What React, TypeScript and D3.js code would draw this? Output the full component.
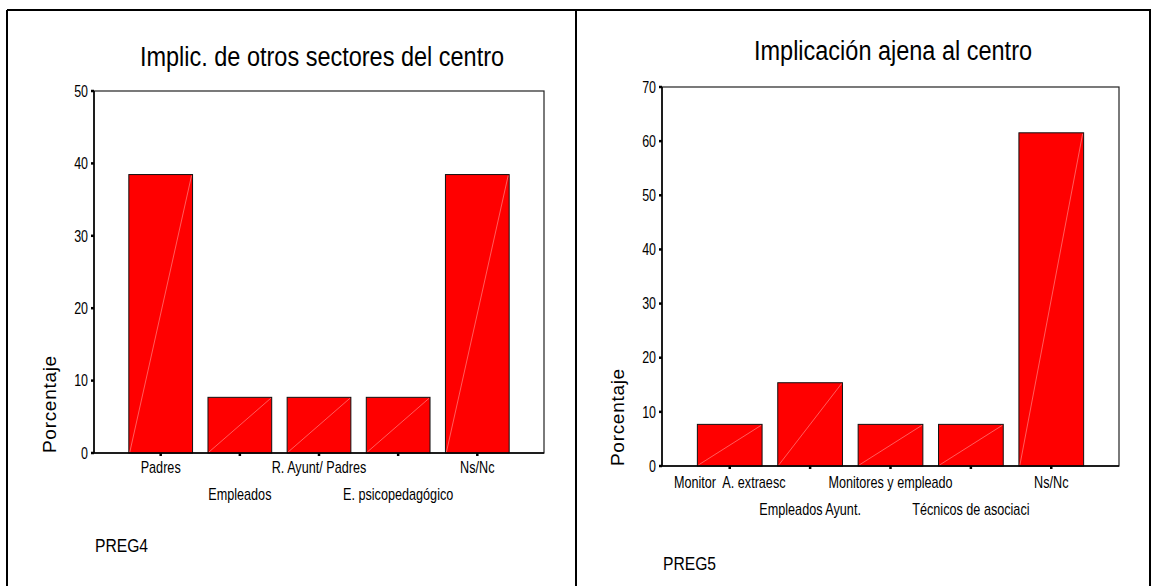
import React from 'react';
import * as d3 from 'd3';

// datos
const cats4 = ['Padres', 'Empleados', 'R. Ayunt/ Padres', 'E. psicopedagógico', 'Ns/Nc'];
const vals4 = [38.46, 7.69, 7.69, 7.69, 38.46];
const ticks4 = [0, 10, 20, 30, 40, 50];

const cats5 = ['Monitor  A. extraesc', 'Empleados Ayunt.', 'Monitores y empleado', 'Técnicos de asociaci', 'Ns/Nc'];
const vals5 = [7.69, 15.38, 7.69, 7.69, 61.54];
const ticks5 = [0, 10, 20, 30, 40, 50, 60, 70];

const FONT = "'Liberation Sans', Arial, sans-serif";

// texto estrechado (imita Arial Narrow)
function NText({ x, y, sx = 0.8, size, anchor = 'start', children, dy }: {
  x: number; y: number; sx?: number; size: number; anchor?: string; children: React.ReactNode; dy?: string;
}) {
  return (
    <text transform={`translate(${x},${y}) scale(${sx},1)`} dy={dy} textAnchor={anchor as any}
      fontSize={size} fill="#000" style={{ whiteSpace: 'pre' }}>{children}</text>
  );
}

interface PanelProps {
  title: string;
  varName: string;
  cats: string[];
  vals: number[];
  ticks: number[];
  box: { x0: number; x1: number; y0: number; y1: number };
  titleX: number;
  titleY: number;
  row1: number;
  row2: number;
  varY: number;
  ylabX: number;
}

function Panel({ title, varName, cats, vals, ticks, box, titleX, titleY, row1, row2, varY, ylabX }: PanelProps) {
  const x = d3.scaleBand<string>()
    .domain(cats)
    .range([box.x0, box.x1])
    .paddingInner(0.195)
    .paddingOuter(0.44);
  const y = d3.scaleLinear()
    .domain([0, d3.max(ticks) as number])
    .range([box.y1, box.y0]);

  return (
    <g fontFamily={FONT}>
      <NText x={titleX} y={titleY} size={27} sx={0.87} anchor="middle">{title}</NText>
      {/* caja */}
      <rect x={box.x0} y={box.y0} width={box.x1 - box.x0} height={box.y1 - box.y0} fill="none" stroke="#222" strokeWidth={1.2} />
      {/* barras */}
      {cats.map((c, i) => {
        const bx = x(c) as number;
        const bw = x.bandwidth();
        const top = y(vals[i]);
        return (
          <g key={c}>
            <rect x={bx} y={top} width={bw} height={y(0) - top} fill="#ff0000" stroke="#111" strokeWidth={1} />
            <line x1={bx + 1} y1={y(0) - 1} x2={bx + bw - 1} y2={top + 1} stroke="#ff9a9a" strokeWidth={0.6} />
          </g>
        );
      })}
      {/* eje y */}
      <line x1={box.x0} y1={box.y0} x2={box.x0} y2={box.y1} stroke="#000" strokeWidth={1.5} />
      <line x1={box.x0 - 3} y1={box.y1} x2={box.x1} y2={box.y1} stroke="#000" strokeWidth={1.5} />
      {ticks.map(t => (
        <g key={t}>
          <line x1={box.x0 - 3} x2={box.x0} y1={y(t)} y2={y(t)} stroke="#000" strokeWidth={2.5} />
          <NText x={box.x0 - 6} y={y(t)} dy="0.36em" anchor="end" size={16} sx={0.78}>{t}</NText>
        </g>
      ))}
      {/* eje x */}
      {cats.map((c, i) => {
        const cx = (x(c) as number) + x.bandwidth() / 2;
        return (
          <g key={c}>
            <line x1={cx} x2={cx} y1={box.y1} y2={box.y1 + 3} stroke="#000" strokeWidth={2.5} />
            <NText x={cx} y={i % 2 === 0 ? row1 : row2} anchor="middle" size={16} sx={0.79}>{c}</NText>
          </g>
        );
      })}
      <text transform={`translate(${ylabX},${box.y1}) rotate(-90)`} textAnchor="start" fontSize={19} letterSpacing={0.7} fill="#000">Porcentaje</text>
      <NText x={box.x0 + 1} y={varY} size={18} sx={0.87}>{varName}</NText>
    </g>
  );
}

export default function App() {
  return (
    <svg width={1152} height={586} style={{ position: 'absolute', left: 0, top: 0, background: '#fff' }}>
      <rect x={0} y={0} width={1152} height={586} fill="#fff" />
      <line x1={7} y1={10} x2={1151} y2={10} stroke="#000" strokeWidth={2} />
      <line x1={7} y1={10} x2={7} y2={586} stroke="#000" strokeWidth={2} />
      <line x1={576} y1={10} x2={576} y2={586} stroke="#000" strokeWidth={2} />
      <line x1={1150} y1={10} x2={1150} y2={586} stroke="#000" strokeWidth={2} />
      <Panel
        title="Implic. de otros sectores del centro"
        varName="PREG4"
        cats={cats4}
        vals={vals4}
        ticks={ticks4}
        box={{ x0: 94, x1: 544, y0: 91, y1: 453 }}
        titleX={322}
        titleY={66}
        row1={473}
        row2={500}
        varY={552}
        ylabX={56}
      />
      <Panel
        title="Implicación ajena al centro"
        varName="PREG5"
        cats={cats5}
        vals={vals5}
        ticks={ticks5}
        box={{ x0: 662, x1: 1119, y0: 87, y1: 466 }}
        titleX={893}
        titleY={60}
        row1={488}
        row2={515}
        varY={570}
        ylabX={624}
      />
    </svg>
  );
}
